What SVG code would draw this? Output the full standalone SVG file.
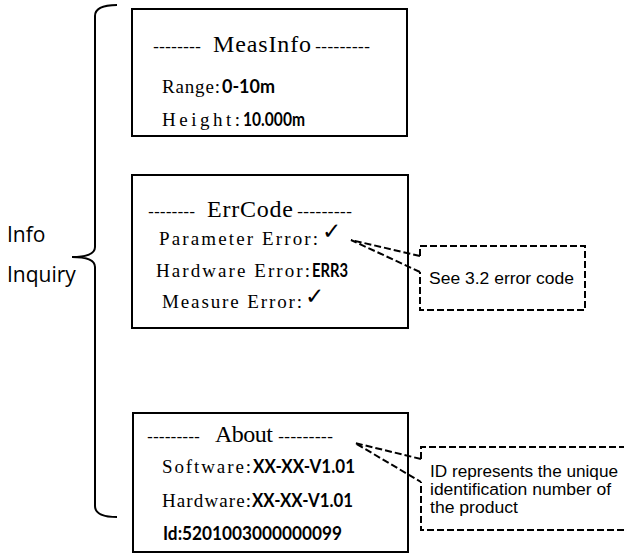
<svg xmlns="http://www.w3.org/2000/svg" width="624" height="560" viewBox="0 0 624 560">
<style>
.box{fill:#fff;stroke:#000;stroke-width:2}
.dash{fill:none;stroke:#000;stroke-width:2;stroke-dasharray:7 3}
.mono{font-family:"Liberation Serif",serif;font-size:19px;fill:#000}
.title{font-family:"Liberation Serif",serif;font-size:24px;fill:#000}
.hy{font-family:"Liberation Sans",sans-serif;font-size:16px;fill:#000}
.val{font-family:Lato,"Liberation Sans",sans-serif;font-weight:700;font-size:18px;fill:#000}
.chk{font-family:"DejaVu Sans",sans-serif;font-size:23px;fill:#000}
.note{font-family:"Liberation Sans",Arial,sans-serif;font-size:16px;fill:#000}
.lbl{font-family:"Open Sans",sans-serif;font-size:21px;fill:#000}
</style>
<rect width="624" height="560" fill="#fff"/>

<g id="brace-info-inquiry">
<path d="M117,5 Q95,5 95,16 L95,247 Q95,257 72,257 Q95,257 95,267 L95,506 Q95,517 117,517" fill="none" stroke="#000" stroke-width="2"/>
<text class="lbl" x="7" y="242">Info</text>
<text class="lbl" x="7" y="282">Inquiry</text>
</g>

<g id="measinfo">
<rect class="box" x="132" y="9" width="275" height="127"/>
<text class="hy" x="153" y="52" textLength="48" lengthAdjust="spacingAndGlyphs">--------</text>
<text class="title" x="213" y="52" textLength="98" lengthAdjust="spacing">MeasInfo</text>
<text class="hy" x="315" y="52" textLength="55" lengthAdjust="spacingAndGlyphs">---------</text>
<text class="mono" x="162" y="93" textLength="58" lengthAdjust="spacing">Range:</text>
<text class="val" x="222" y="93" textLength="53" lengthAdjust="spacingAndGlyphs">0-10m</text>
<text class="mono" x="162" y="126" textLength="78" lengthAdjust="spacing">Height:</text>
<text class="val" x="243" y="126" textLength="62" lengthAdjust="spacingAndGlyphs">10.000m</text>
</g>

<g id="errcode">
<rect class="box" x="132" y="175" width="276" height="153"/>
<text class="hy" x="148" y="217" textLength="47" lengthAdjust="spacingAndGlyphs">--------</text>
<text class="title" x="207" y="217" textLength="86" lengthAdjust="spacing">ErrCode</text>
<text class="hy" x="297" y="217" textLength="55" lengthAdjust="spacingAndGlyphs">---------</text>
<text class="mono" x="159" y="245" textLength="159" lengthAdjust="spacing">Parameter Error:</text>
<text class="chk" x="322" y="239">✓</text>
<text class="mono" x="156" y="277" textLength="154" lengthAdjust="spacing">Hardware Error:</text>
<text class="val" x="312" y="277" textLength="36" lengthAdjust="spacingAndGlyphs">ERR3</text>
<text class="mono" x="162" y="308" textLength="140" lengthAdjust="spacing">Measure Error:</text>
<text class="chk" x="305" y="304">✓</text>
</g>

<g id="about">
<rect class="box" x="133" y="413" width="275" height="139"/>
<text class="hy" x="147" y="442" textLength="53" lengthAdjust="spacingAndGlyphs">---------</text>
<text class="title" x="215" y="442" textLength="58" lengthAdjust="spacing">About</text>
<text class="hy" x="278" y="442" textLength="55" lengthAdjust="spacingAndGlyphs">---------</text>
<text class="mono" x="162" y="473" textLength="89" lengthAdjust="spacing">Software:</text>
<text class="val" x="253" y="473" textLength="102" lengthAdjust="spacingAndGlyphs">XX-XX-V1.01</text>
<text class="mono" x="162" y="507" textLength="89" lengthAdjust="spacing">Hardware:</text>
<text class="val" x="252" y="507" textLength="101" lengthAdjust="spacingAndGlyphs">XX-XX-V1.01</text>
<text class="val" x="163" y="540" textLength="179" lengthAdjust="spacingAndGlyphs">Id:5201003000000099</text>
</g>

<g id="callout-error">
<path class="dash" d="M420,256 L420,246 L585,246 L585,310 L420,310 L420,272"/>
<text class="note" x="429" y="284" textLength="145" lengthAdjust="spacingAndGlyphs">See 3.2 error code</text>
</g>

<g id="callout-id">
<path class="dash" d="M421,459 L421,447 L630,447 L630,530 L421,530 L421,482"/>
<text class="note" x="430" y="477" textLength="188" lengthAdjust="spacingAndGlyphs">ID represents the unique</text>
<text class="note" x="430" y="495" textLength="181" lengthAdjust="spacingAndGlyphs">identification number of</text>
<text class="note" x="430" y="513" textLength="88" lengthAdjust="spacingAndGlyphs">the product</text>
</g>

<g id="connectors">
<path class="dash" d="M420,256 L351,240 L420,272"/>
<path class="dash" d="M421,459 L355,443 L421,482"/>
</g>
</svg>
